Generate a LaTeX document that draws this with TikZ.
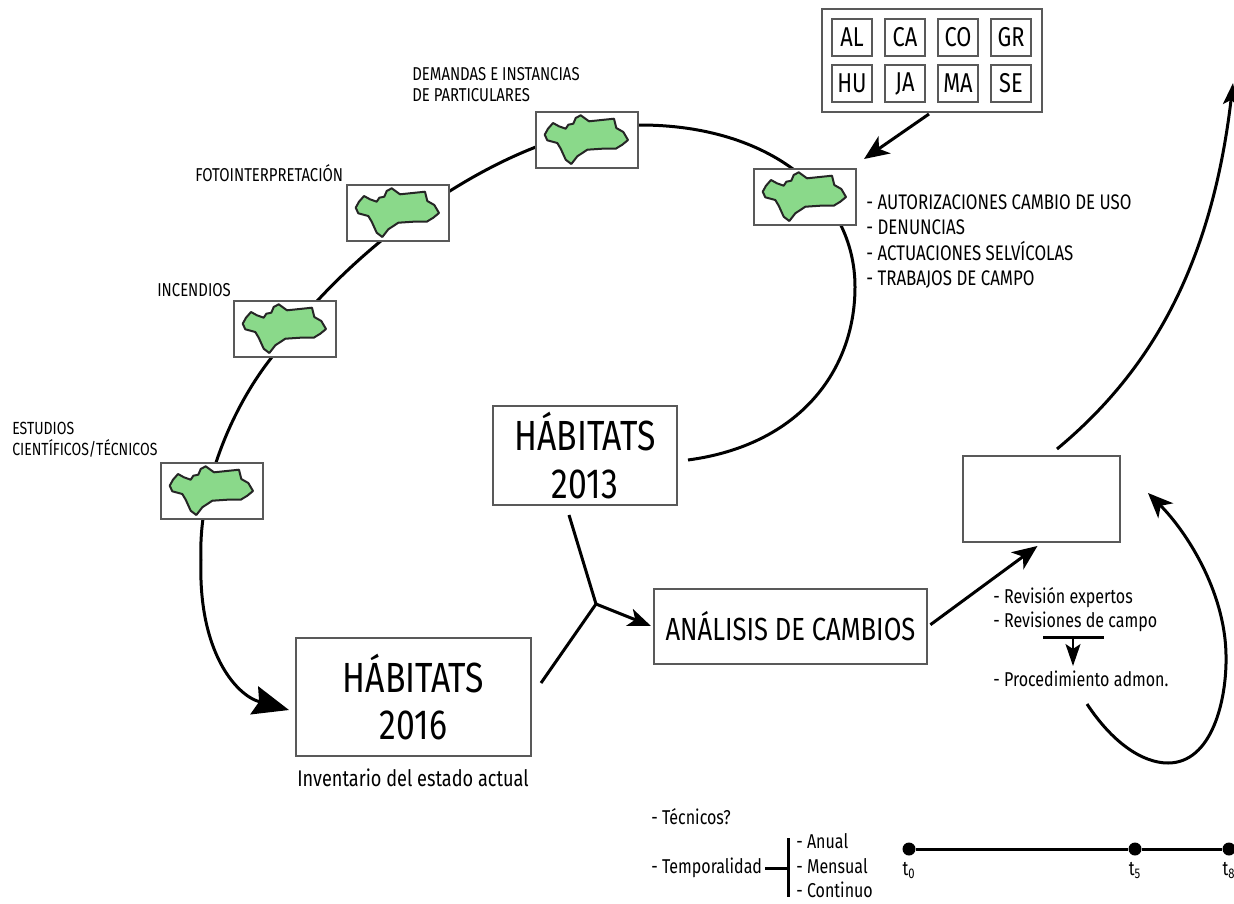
\documentclass[tikz,border=0pt]{standalone}
\usepackage{fontspec}
\setmainfont[FakeStretch=0.8]{Fira Sans}
\usetikzlibrary{arrows.meta}
\definecolor{mapaverde}{HTML}{8AD98A}
\tikzset{
	caja/.style = {draw = black!65, line width = 0.04cm, fill = white, inner sep = 0pt},
	mapacaja/.style = {caja, minimum width = 2.04cm, minimum height = 1.12cm},
	prov/.style = {caja, minimum width = 0.8cm, minimum height = 0.74cm, font = \fontsize{15.5}{16}\selectfont},
	habitat/.style = {caja, align = center, font = \fontsize{24}{27}\selectfont},
	etiqueta/.style = {anchor = west, inner sep = 0pt, font = \fontsize{10.6}{12}\selectfont, align = left},
	texto/.style = {etiqueta, font = \fontsize{11.4}{14}\selectfont},
	linea/.style = {line width = 0.06cm, black},
	flecha/.style = {linea, -{Stealth[length = 0.5cm, width = 0.42cm, inset = 0.14cm]}},
	punto/.style = {circle, fill = black, minimum size = 0.26cm, inner sep = 0pt},
	tiempo/.style = {inner sep = 0pt, yshift = -0.12cm, font = \fontsize{11.4}{12}\selectfont},
	mapa/.pic = {
		\draw [draw = black!85, fill = mapaverde, line width = 0.04cm, line join = round]
			(9.7,23.7) -- (13,17.7) -- (18,12) -- (24,15.3) -- (30.7,17.7) -- (33.3,13.7) -- (38.3,12.7) -- (40.7,7) -- (45.7,4.3)
			-- (54,10.3) -- (79,7.7) -- (81.3,17) -- (88.3,21) -- (93,29) -- (87.3,33.7) -- (80.7,37.7) -- (67.3,37.7) -- (52.3,38.7)
			-- (47.3,42) -- (42.3,45.3) -- (36.3,53) -- (30.7,48.7) -- (25.7,37.7) -- (22.3,32) -- (12.3,29.3) -- cycle;
	}
}
\begin{document}
\begin{tikzpicture}[x = 0.02cm, y = -0.02cm]
		\useasboundingbox (0, 0) rectangle (1234, 903);
		\clip (0, 0) rectangle (1234, 903);
		%%%%%%%%%%%%%
		\coordinate (anillo) at (688, 460);
		\coordinate (tope) at (640, 125);
		\coordinate (lado) at (855, 287);
		\coordinate (codo) at (272, 357);
		\coordinate (baja) at (201, 560);
		\coordinate (punta) at (289, 710);
		\draw [linea, -{Stealth[length = 0.72cm, width = 0.58cm, inset = 0.1cm]}] (anillo) .. controls (800,445) and (855,370) .. (lado)
			.. controls (855,195) and (770,125) .. (tope)
			.. controls (510,125) and (345,250) .. (codo)
			.. controls (230,410) and (198,490) .. (baja)
			.. controls (198,650) and (235,695) .. (punta);
		%%%%%%%%%%%%%
		\node [mapacaja] (estudios) at (212, 491) {};
		\node [mapacaja] (incendios) at (285, 329) {};
		\node [mapacaja] (foto) at (398, 213) {};
		\node [mapacaja] (demandas) at (587, 140) {};
		\node [mapacaja] (autoriz) at (805, 197) {};
		\foreach \m in {estudios, incendios, foto, demandas, autoriz}
			\pic [shift = {(\m.north west)}] {mapa};
		%%%%%%%%%%%%%
		\node [habitat, minimum width = 3.68cm, minimum height = 1.98cm] (hab13) at (585, 455.5) {HÁBITATS\\2013};
		\node [habitat, minimum width = 4.7cm, minimum height = 2.36cm] (hab16) at (413.5, 697) {HÁBITATS\\2016};
		\node [caja, minimum width = 5.46cm, minimum height = 1.5cm, font = \fontsize{18.2}{20}\selectfont] (analisis) at (790.5, 626.5) {ANÁLISIS DE CAMBIOS};
		\node [caja, minimum width = 3.14cm, minimum height = 1.72cm] (revbox) at (1041.5, 499) {};
		\node [caja, minimum width = 4.4cm, minimum height = 2.06cm] (listbox) at (932, 60.5) {};
		%%%%%%%%%%%%%
		\node [prov] (al) at (852, 37.5) {AL}; \node [prov] (ca) at (905, 37.5) {CA};
		\node [prov] (co) at (958, 37.5) {CO}; \node [prov] (gr) at (1011, 37.5) {GR};
		\node [prov] (hu) at (852, 83.5) {HU}; \node [prov] (ja) at (905, 83.5) {JA};
		\node [prov] (ma) at (958, 83.5) {MA}; \node [prov] (se) at (1011, 83.5) {SE};
		%%%%%%%%%%%%%
		\node [etiqueta] (lbldem) at (412, 84.5) {DEMANDAS E INSTANCIAS\\DE PARTICULARES};
		\node [etiqueta] (lblfoto) at (195, 173) {FOTOINTERPRETACIÓN};
		\node [etiqueta] (lblinc) at (157, 290) {INCENDIOS};
		\node [etiqueta, font = \fontsize{10}{12}\selectfont] (lblest) at (12, 440) {ESTUDIOS\\CIENTÍFICOS/TÉCNICOS};
		\node [etiqueta, font = \fontsize{12}{14.5}\selectfont] (lblaut) at (866, 241.5) {- AUTORIZACIONES CAMBIO DE USO\\- DENUNCIAS\\- ACTUACIONES SELVÍCOLAS\\- TRABAJOS DE CAMPO};
		\node [etiqueta, font = \fontsize{12.9}{14}\selectfont] (lblinv) at (297, 778) {Inventario del estado actual};
		\node [texto] (rev) at (993, 609.5) {- Revisión expertos\\- Revisiones de campo};
		\node [texto] (proc) at (993, 679) {- Procedimiento admon.};
		\node [texto] (tec) at (651, 817) {- Técnicos?};
		\node [texto] (temp) at (651, 868) {- Temporalidad};
		\node [texto] (anual) at (796, 841) {- Anual};
		\node [texto] (mensual) at (796, 866) {- Mensual};
		\node [texto] (continuo) at (796, 890) {- Continuo};
		%%%%%%%%%%%%%
		\coordinate (cruce) at (596, 604);
		\coordinate (a13) at (569, 515);
		\coordinate (a16) at (541, 683);
		\coordinate (ent) at (651, 626);
		\draw [linea] (a13) -- (cruce); \draw [linea] (a16) -- (cruce);
		\draw [linea, -{Stealth[length = 0.46cm, width = 0.36cm, inset = 0.12cm]}] (cruce) -- (ent);
		\draw [flecha, shorten <= 0.06cm, shorten >= 0.1cm] (analisis.east) -- (revbox.south);
		\coordinate (sallist) at (929, 114);
		\coordinate (entaut) at (864, 159);
		\draw [flecha] (sallist) -- (entaut);
		%%%%%%%%%%%%%
		\coordinate (sal) at (1057, 449);
		\coordinate (arriba) at (1233, 83);
		\draw [linea, -{Stealth[length = 0.44cm, width = 0.3cm, inset = 0.1cm]}] (sal) .. controls (1140,380) and (1210,280) .. (arriba);
		\coordinate (bucle) at (1087, 704);
		\coordinate (fondo) at (1168, 763);
		\coordinate (derecha) at (1226, 655);
		\coordinate (entrev) at (1148, 493);
		\draw [flecha] (bucle) .. controls (1112,742) and (1142,763) .. (fondo) .. controls (1212,763) and (1227,700) .. (derecha) .. controls (1225,590) and (1185,530) .. (entrev);
		%%%%%%%%%%%%%
		\coordinate (barraa) at (1043, 637);
		\coordinate (barrab) at (1104, 637);
		\coordinate (barram) at (1073, 637);
		\coordinate (flechab) at (1073, 666);
		\draw [linea] (barraa) -- (barrab);
		\draw [line width = 0.04cm, -{Stealth[length = 0.44cm, width = 0.3cm, inset = 0.1cm]}] (barram) -- (flechab);
		%%%%%%%%%%%%%
		\coordinate (llavea) at (788, 838);
		\coordinate (llaveb) at (788, 897);
		\coordinate (llavem) at (788, 868);
		\draw [linea] (llavea) -- (llaveb);
		\draw [linea, shorten <= 0.06cm] (temp.east) -- (llavem);
		%%%%%%%%%%%%%
		\node [punto, label = {[tiempo]below:t\textsubscript{0}}] (t0) at (909, 849) {};
		\node [punto, label = {[tiempo]below:t\textsubscript{5}}] (t5) at (1135, 849) {};
		\node [punto, label = {[tiempo]below:t\textsubscript{8}}] (t8) at (1229, 849) {};
		\draw [linea] (t0) -- (t5) -- (t8);
\end{tikzpicture}
\end{document}
